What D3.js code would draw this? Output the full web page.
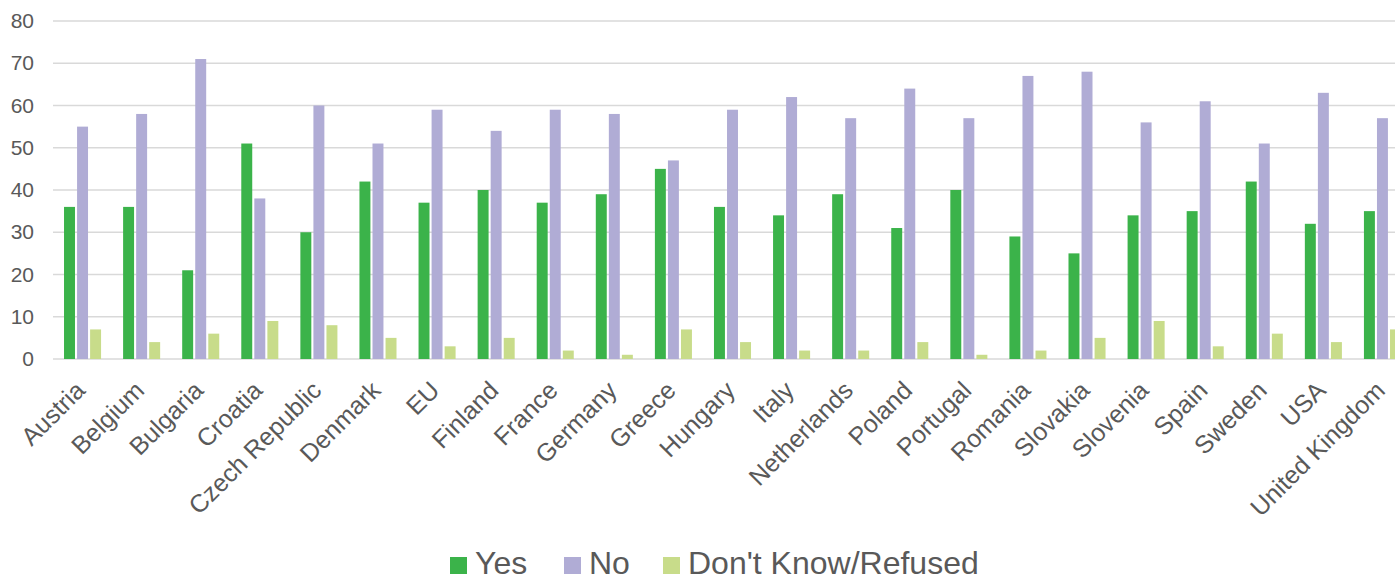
<!DOCTYPE html>
<html>
<head>
<meta charset="utf-8">
<script src="https://cdn.jsdelivr.net/npm/d3@7"></script>
<style>
  html, body { margin: 0; padding: 0; background: #fff; }
  svg { display: block; font-family: "Liberation Sans", Arial, sans-serif; }
</style>
</head>
<body>
<svg id="chart" width="1395" height="577"></svg>
<script>
// Survey answers per country (percent)
const categories = ["Austria", "Belgium", "Bulgaria", "Croatia", "Czech Republic", "Denmark", "EU",
  "Finland", "France", "Germany", "Greece", "Hungary", "Italy", "Netherlands", "Poland", "Portugal",
  "Romania", "Slovakia", "Slovenia", "Spain", "Sweden", "USA", "United Kingdom"];
const seriesNames = ["Yes", "No", "Don't Know/Refused"];
const yesValues = [36, 36, 21, 51, 30, 42, 37, 40, 37, 39, 45, 36, 34, 39, 31, 40, 29, 25, 34, 35, 42, 32, 35];
const noValues = [55, 58, 71, 38, 60, 51, 59, 54, 59, 58, 47, 59, 62, 57, 64, 57, 67, 68, 56, 61, 51, 63, 57];
const dkValues = [7, 4, 6, 9, 8, 5, 3, 5, 2, 1, 7, 4, 2, 2, 4, 1, 2, 5, 9, 3, 6, 4, 7];
const yTicks = [0, 10, 20, 30, 40, 50, 60, 70, 80];
const colors = ["#3bb34a", "#b0acd5", "#c8dc8a"];

const seriesValues = [yesValues, noValues, dkValues];
const svg = d3.select("#chart");

const plotLeft = 53, plotRight = 1412, plotTop = 21, plotBottom = 359;

const x = d3.scaleBand().domain(categories).range([plotLeft, plotRight])
  .paddingInner(0.373).paddingOuter(0.1865);
const x1 = d3.scaleBand().domain(seriesNames).range([0, x.bandwidth()]).paddingInner(0.16);
const y = d3.scaleLinear().domain([0, 80]).range([plotBottom, plotTop]);

// Horizontal gridlines
svg.append("g")
  .selectAll("line")
  .data(yTicks)
  .join("line")
  .attr("x1", plotLeft).attr("x2", plotRight)
  .attr("y1", d => y(d)).attr("y2", d => y(d))
  .attr("stroke", "#d9d9d9").attr("stroke-width", 1.3);

// Y axis labels
const yAxis = d3.axisLeft(y).tickValues(yTicks).tickSize(0).tickPadding(0);
const yg = svg.append("g").attr("transform", "translate(34,0)").call(yAxis);
yg.select(".domain").remove();
yg.selectAll("text").attr("font-size", 21).attr("fill", "#595959")
  .attr("font-family", "Liberation Sans, Arial, sans-serif");

// Bars
const groups = svg.append("g")
  .selectAll("g")
  .data(categories)
  .join("g")
  .attr("transform", d => `translate(${x(d)},0)`);

groups.selectAll("rect")
  .data((c, i) => seriesNames.map((s, k) => ({ s, v: seriesValues[k][i], k })))
  .join("rect")
  .attr("x", d => x1(d.s))
  .attr("width", x1.bandwidth())
  .attr("y", d => y(d.v))
  .attr("height", d => y(0) - y(d.v))
  .attr("fill", d => colors[d.k]);

// Category labels, rotated
const xAxis = d3.axisBottom(x).tickSize(0).tickPadding(0);
const xg = svg.append("g").attr("transform", `translate(0,${plotBottom})`).call(xAxis);
xg.select(".domain").remove();
xg.selectAll("text")
  .attr("font-size", 25).attr("fill", "#595959")
  .attr("font-family", "Liberation Sans, Arial, sans-serif")
  .attr("text-anchor", "end")
  .attr("dy", null)
  .attr("transform", "translate(4,33) rotate(-45)");

// Legend
const legendItems = [
  { name: seriesNames[0], color: colors[0], x: 450 },
  { name: seriesNames[1], color: colors[1], x: 564 },
  { name: seriesNames[2], color: colors[2], x: 663 }
];
const lg = svg.append("g");
legendItems.forEach(item => {
  lg.append("rect").attr("x", item.x).attr("y", 557).attr("width", 17).attr("height", 17)
    .attr("fill", item.color);
  lg.append("text").attr("x", item.x + 25).attr("y", 574)
    .attr("font-size", 32).attr("fill", "#595959")
    .text(item.name);
});
</script>
</body>
</html>
